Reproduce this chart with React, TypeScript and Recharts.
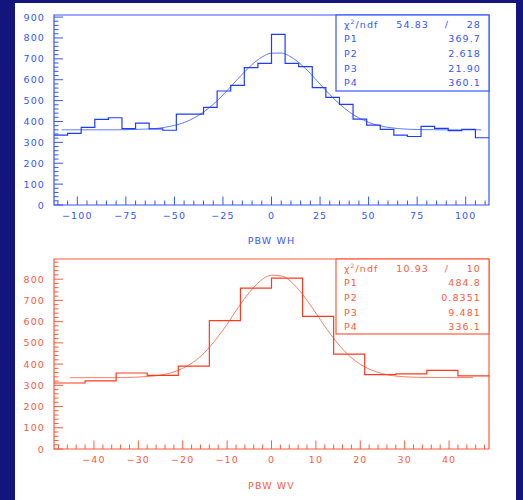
import React from 'react';
import { LineChart, Line, XAxis, YAxis, ReferenceArea } from 'recharts';

// upper histogram: PBW WH, 32 bins of width 7
const whEdges = [
  -112, -105, -98, -91, -84, -77, -70, -63, -56, -49, -42, -35, -28, -21, -14, -7,
  0, 7, 14, 21, 28, 35, 42, 49, 56, 63, 70, 77, 84, 91, 98, 105, 112,
];
const whCounts = [
  335, 343, 372, 410, 418, 366, 392, 365, 358, 435, 435, 468, 546, 573, 658, 678,
  817, 678, 663, 562, 515, 482, 411, 383, 362, 335, 328, 377, 367, 356, 362, 322,
];
const whFitX = [
  -108, -90, -80, -70, -60, -55, -50, -45, -40, -35, -30, -25, -20, -15, -10, -5, 0,
  5, 10, 15, 20, 25, 30, 35, 40, 45, 50, 55, 60, 70, 80, 90, 108,
];
const whFitY = [
  360, 360, 360, 362, 366, 372, 381, 395, 416, 445, 482, 527, 577, 627, 673, 708, 727,
  728, 709, 675, 630, 579, 529, 484, 446, 417, 396, 381, 372, 363, 361, 360, 360,
];
const whXTicks = [-100, -75, -50, -25, 0, 25, 50, 75, 100];
const whYTicks = [0, 100, 200, 300, 400, 500, 600, 700, 800, 900];
const whStats = { chi2: '54.83', ndf: '28', params: ['369.7', '2.618', '21.90', '360.1'] };

// lower histogram: PBW WV, 14 bins of width 7
const wvEdges = [-49, -42, -35, -28, -21, -14, -7, 0, 7, 14, 21, 28, 35, 42, 49];
const wvCounts = [311, 321, 358, 347, 390, 605, 758, 805, 625, 447, 350, 354, 370, 344];
const wvFitX = [
  -45.4, -35, -30, -25, -22.5, -20, -17.5, -15, -12.5, -10, -7.5, -5, -2.5, 0,
  2.5, 5, 7.5, 10, 12.5, 15, 17.5, 20, 22.5, 25, 30, 35, 45.4,
];
const wvFitY = [
  336, 336, 339, 348, 360, 380, 411, 456, 517, 588, 667, 737, 792, 819,
  814, 776, 715, 640, 563, 495, 439, 399, 372, 355, 340, 337, 336,
];
const wvXTicks = [-40, -30, -20, -10, 0, 10, 20, 30, 40];
const wvYTicks = [0, 100, 200, 300, 400, 500, 600, 700, 800];
const wvStats = { chi2: '10.93', ndf: '10', params: ['484.8', '0.8351', '9.481', '336.1'] };

const paramNames = ['P1', 'P2', 'P3', 'P4'];

const FONT = '"DejaVu Sans", sans-serif';
const NAVY = '#14147d';
const BLUE = '#1e3cff';
const BLUE_FIT = '#5f7cff';
const BLUE_TXT = '#3556ff';
const RED = '#ff3a1c';
const RED_FIT = '#ff7e66';
const RED_TXT = '#ff5a3c';

const steps = (edges: number[], counts: number[]) =>
  edges.map((x, i) => ({ x, y: counts[Math.min(i, counts.length - 1)] }));
const curve = (xs: number[], ys: number[]) => xs.map((x, i) => ({ x, y: ys[i] }));
const minorTicks = (from: number, to: number, step: number) => {
  const out: number[] = [];
  for (let v = from; v <= to + 1e-9; v += step) out.push(v);
  return out;
};
const fmt = (v: number) => (v < 0 ? '\u2212' + Math.abs(v) : String(v));

const textStyle = { fontFamily: FONT, fontSize: 9.5, letterSpacing: 1.1 };

const xTick = (majors: number[], color: string) => (props: any) => {
  const { x, y, payload } = props;
  const major = majors.includes(payload.value);
  return (
    <g>
      <line x1={x} x2={x} y1={y} y2={y - (major ? 8.5 : 4.5)} stroke={color} strokeWidth={1} />
      {major && (
        <text x={x} y={y + 13.5} textAnchor="middle" fill={color} style={textStyle}>
          {fmt(payload.value)}
        </text>
      )}
    </g>
  );
};

const yTick = (majors: number[], color: string) => (props: any) => {
  const { x, y, payload } = props;
  const major = majors.includes(payload.value);
  return (
    <g>
      <line x1={x} x2={x + (major ? 9 : 4.5)} y1={y} y2={y} stroke={color} strokeWidth={1} />
      {major && (
        <text x={x - 9} y={y + 3.5} textAnchor="end" fill={color} style={textStyle}>
          {fmt(payload.value)}
        </text>
      )}
    </g>
  );
};

type PanelProps = {
  edges: number[];
  counts: number[];
  fitX: number[];
  fitY: number[];
  xDomain: [number, number];
  yMax: number;
  xMajors: number[];
  xMinorStep: number;
  yMajors: number[];
  title: string;
  line: string;
  fit: string;
  txt: string;
  marginTop: number;
  axisHeight: number;
  titleOffset: number;
};

const Panel: React.FC<PanelProps> = (p) => {
  const xMinor = minorTicks(
    Math.ceil(p.xDomain[0] / p.xMinorStep) * p.xMinorStep,
    p.xDomain[1],
    p.xMinorStep
  );
  const yMinor = minorTicks(0, p.yMax, 20);
  return (
    <LineChart width={523} height={250} margin={{ top: p.marginTop, right: 34, bottom: 0, left: 14 }}>
      <XAxis
        dataKey="x"
        type="number"
        domain={p.xDomain}
        allowDataOverflow
        ticks={xMinor}
        interval={0}
        height={p.axisHeight}
        axisLine={false}
        tickLine={false}
        tickSize={0}
        tickMargin={0}
        tick={xTick(p.xMajors, p.txt)}
        label={{
          value: p.title,
          position: 'insideBottom',
          offset: p.titleOffset,
          fill: p.txt,
          style: textStyle,
        }}
      />
      <YAxis
        type="number"
        domain={[0, p.yMax]}
        allowDataOverflow
        ticks={yMinor}
        interval={0}
        width={40}
        axisLine={false}
        tickLine={false}
        tickSize={0}
        tickMargin={0}
        tick={yTick(p.yMajors, p.txt)}
      />
      <ReferenceArea
        x1={p.xDomain[0]}
        x2={p.xDomain[1]}
        y1={0}
        y2={p.yMax}
        fill="none"
        stroke={p.txt}
        strokeWidth={1.2}
        ifOverflow="visible"
      />
      <Line
        data={curve(p.fitX, p.fitY)}
        dataKey="y"
        type="monotone"
        stroke={p.fit}
        strokeWidth={1}
        dot={false}
        isAnimationActive={false}
      />
      <Line
        data={steps(p.edges, p.counts)}
        dataKey="y"
        type="stepAfter"
        stroke={p.line}
        strokeWidth={1.2}
        dot={false}
        isAnimationActive={false}
      />
    </LineChart>
  );
};

const StatsBox: React.FC<{
  x: number;
  y: number;
  h: number;
  color: string;
  stats: { chi2: string; ndf: string; params: string[] };
}> = ({ x, y, h, color, stats }) => {
  const w = 153;
  const rows = [12.5, 27.2, 41.9, 56.6, 71.3];
  return (
    <g>
      <rect x={x} y={y} width={w} height={h} fill="#fff" stroke={color} strokeWidth={1.2} />
      <text x={x + 8} y={y + rows[0]} fill={color} style={textStyle}>
        <tspan>χ</tspan>
        <tspan dy={-4} fontSize={6}>2</tspan>
        <tspan dy={4}>/ndf</tspan>
      </text>
      <text x={x + 93} y={y + rows[0]} textAnchor="end" fill={color} style={textStyle}>
        {stats.chi2}
      </text>
      <text x={x + 111} y={y + rows[0]} textAnchor="middle" fill={color} style={textStyle}>
        /
      </text>
      <text x={x + 145} y={y + rows[0]} textAnchor="end" fill={color} style={textStyle}>
        {stats.ndf}
      </text>
      {paramNames.map((n, i) => (
        <g key={n}>
          <text x={x + 8} y={y + rows[i + 1]} fill={color} style={textStyle}>
            {n}
          </text>
          <text x={x + 145} y={y + rows[i + 1]} textAnchor="end" fill={color} style={textStyle}>
            {stats.params[i]}
          </text>
        </g>
      ))}
    </g>
  );
};

export default function App() {
  return (
    <div style={{ position: 'absolute', left: 0, top: 0, width: 523, height: 500, background: NAVY, overflow: 'hidden' }}>
      <div style={{ position: 'absolute', left: 15, top: 3, width: 501, height: 497, background: '#fff' }} />
      <div style={{ position: 'absolute', left: 0, top: 0 }}>
        <Panel
          edges={whEdges}
          counts={whCounts}
          fitX={whFitX}
          fitY={whFitY}
          xDomain={[-112, 112]}
          yMax={910}
          xMajors={whXTicks}
          xMinorStep={5}
          yMajors={whYTicks}
          title="PBW WH"
          line={BLUE}
          fit={BLUE_FIT}
          txt={BLUE_TXT}
          marginTop={15}
          axisHeight={45}
          titleOffset={6}
        />
      </div>
      <div style={{ position: 'absolute', left: 0, top: 250 }}>
        <Panel
          edges={wvEdges}
          counts={wvCounts}
          fitX={wvFitX}
          fitY={wvFitY}
          xDomain={[-49, 49]}
          yMax={895}
          xMajors={wvXTicks}
          xMinorStep={2}
          yMajors={wvYTicks}
          title="PBW WV"
          line={RED}
          fit={RED_FIT}
          txt={RED_TXT}
          marginTop={9}
          axisHeight={51}
          titleOffset={11.5}
        />
      </div>
      <svg width={523} height={500} style={{ position: 'absolute', left: 0, top: 0, pointerEvents: 'none' }}>
        <StatsBox x={336} y={15} h={76} color={BLUE_TXT} stats={whStats} />
        <StatsBox x={336} y={259} h={75} color={RED_TXT} stats={wvStats} />
      </svg>
    </div>
  );
}
